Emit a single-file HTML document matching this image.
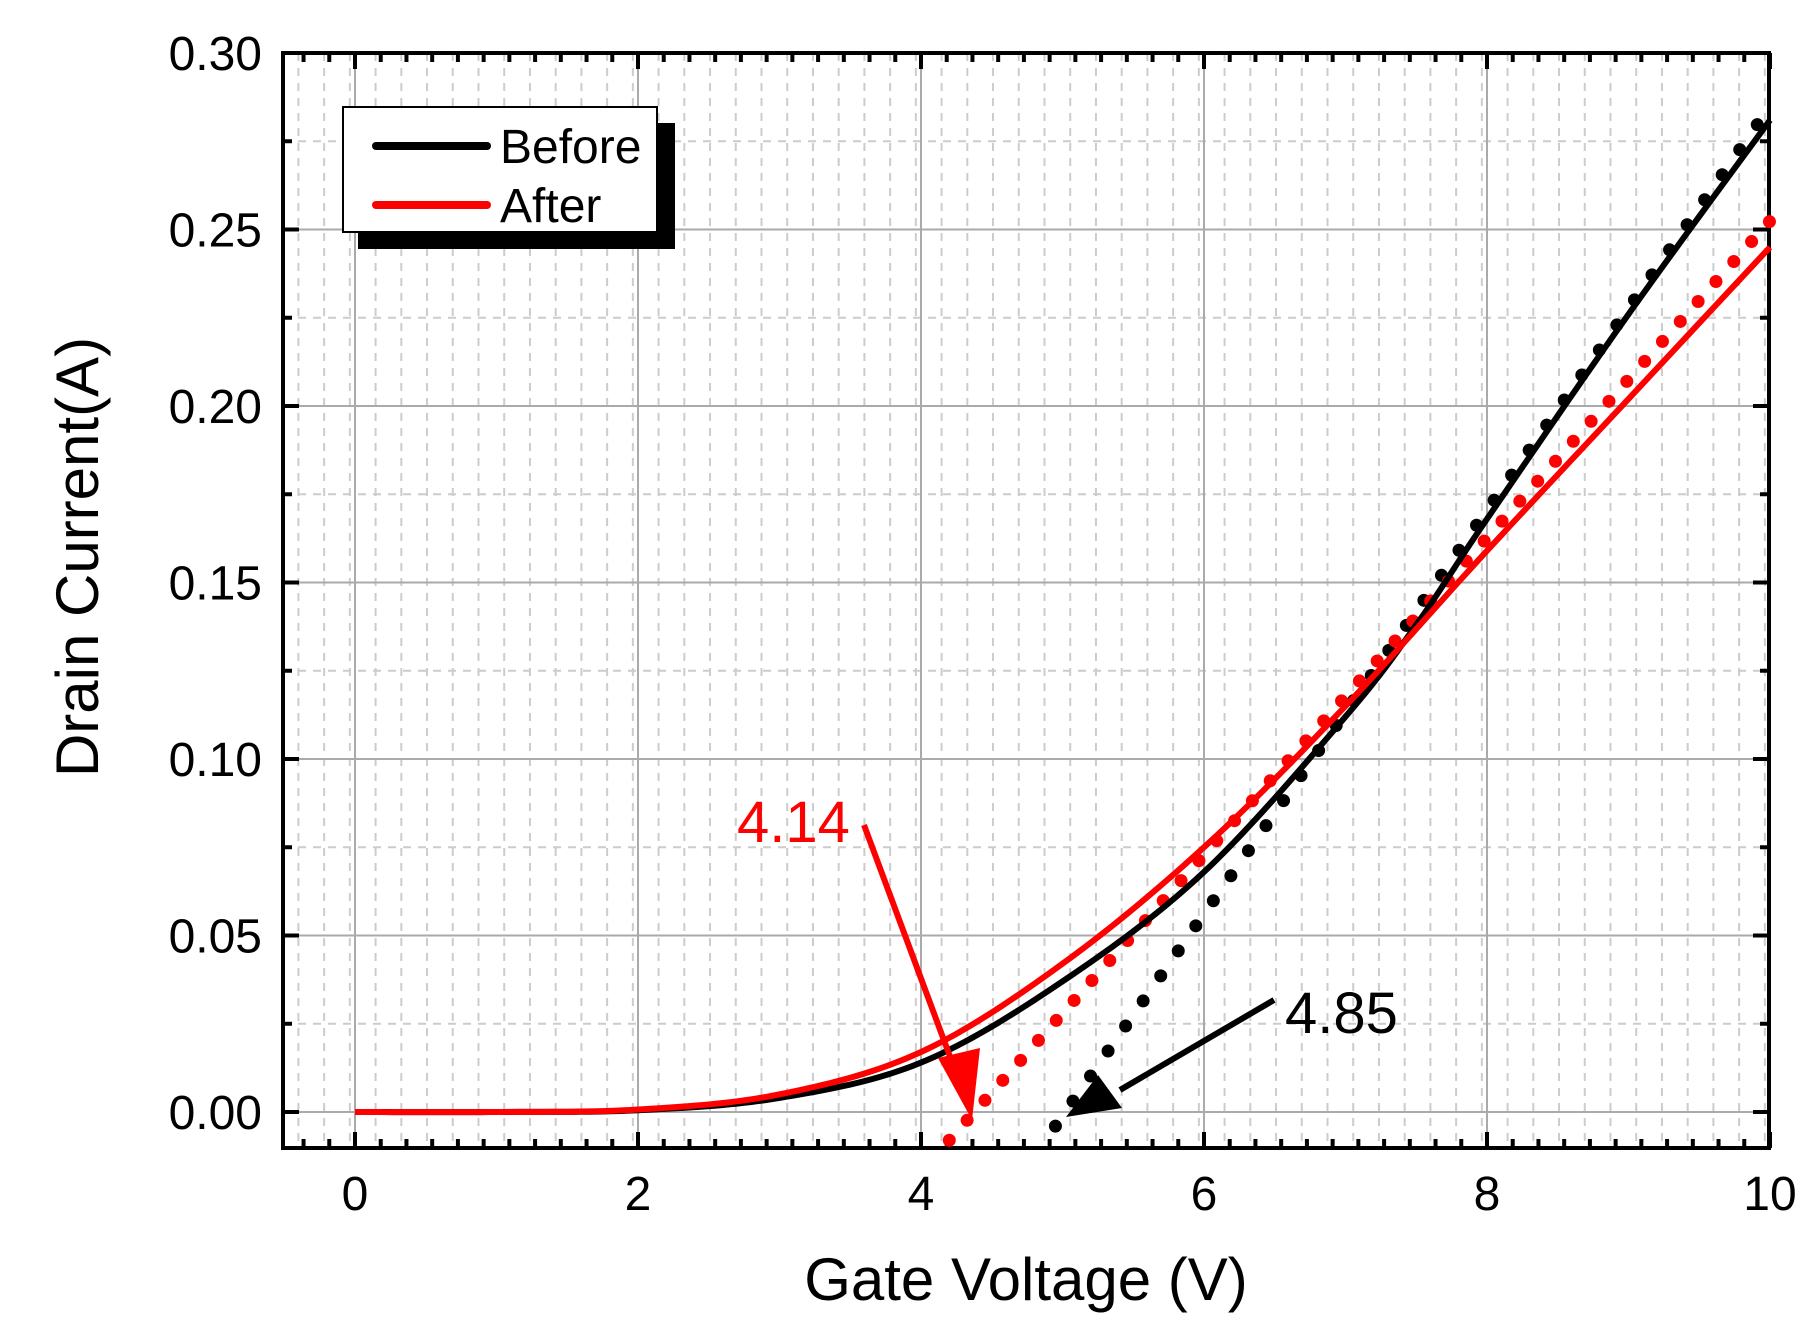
<!DOCTYPE html><html><head><style>body{margin:0;background:#fff}svg{display:block}</style></head><body>
<svg id="s" width="1819" height="1340" viewBox="0 0 1819 1340" font-family="Liberation Sans, Arial, sans-serif"></svg>
<script>
const s=document.getElementById('s');
const L=283,R=1769,T=53,B=1148,X0=355,XU=141.5,Y0=1112,YU=3530;
const X=v=>X0+v*XU, Y=v=>Y0-v*YU;
let h='';
for(let i=-0.4;i<=10.01;i+=2/11){const x=X(i);if(x>L+2&&x<R-2)h+=`<line x1="${x}" y1="${T}" x2="${x}" y2="${B}" stroke="#ccc" stroke-width="2" stroke-dasharray="8,7"/>`;}
for(let v=0.025;v<=0.3;v+=0.05){h+=`<line x1="${L}" y1="${Y(v)}" x2="${R}" y2="${Y(v)}" stroke="#ccc" stroke-width="2" stroke-dasharray="8,7"/>`;}
for(let i=0;i<=10;i+=2){h+=`<line x1="${X(i)}" y1="${T}" x2="${X(i)}" y2="${B}" stroke="#aaa" stroke-width="2"/>`;}
for(let k=0;k<=6;k++){const v=k*0.05;h+=`<line x1="${L}" y1="${Y(v)}" x2="${R}" y2="${Y(v)}" stroke="#aaa" stroke-width="2"/>`;}
for(let i=-4/11;i<=10.01;i+=2/11){const x=X(i);if(x<L+2)continue;const maj=Math.abs(i/2-Math.round(i/2))<0.01;const l=maj?16:9;
h+=`<line x1="${x}" y1="${B}" x2="${x}" y2="${B-l}" stroke="#000" stroke-width="4"/><line x1="${x}" y1="${T}" x2="${x}" y2="${T+l}" stroke="#000" stroke-width="4"/>`;}
for(let k=-1;k<=12;k++){const v=k*0.025;const y=Y(v);if(y>B-2||y<T+2)continue;const l=k%2==0?16:9;
h+=`<line x1="${L}" y1="${y}" x2="${L+l}" y2="${y}" stroke="#000" stroke-width="4"/><line x1="${R}" y1="${y}" x2="${R-l}" y2="${y}" stroke="#000" stroke-width="4"/>`;}
h+=`<rect x="${L}" y="${T}" width="${R-L}" height="${B-T}" fill="none" stroke="#000" stroke-width="4"/>`;
for(let i=0;i<=10;i+=2)h+=`<text x="${X(i)}" y="1210" font-size="48" text-anchor="middle">${i}</text>`;
for(let k=0;k<=6;k++)h+=`<text x="262" y="${Y(k*0.05)+17}" font-size="48" text-anchor="end">${(k*0.05).toFixed(2)}</text>`;
h+=`<text x="1026" y="1300" font-size="60" text-anchor="middle">Gate Voltage (V)</text>`;
h+=`<text transform="translate(98,557) rotate(-90)" font-size="60" text-anchor="middle">Drain Current(A)</text>`;
function dots(x1,y1,x2,c,slope,st){let o='';for(let x=x1;x<=x2+0.001;x+=st){const y=y1+(x-x1)*slope;o+=`<circle cx="${X(x)}" cy="${Y(y)}" r="6.5" fill="${c}"/>`;}return o;}
h+=dots(4.95,-0.004,10,'#000',0.0572,0.124);
h+=dots(4.2,-0.008,10,'#f00',0.0449,0.126);
function curve(p,c){let pts=[];for(let i=0;i<p.length-1;i++){const p0=p[Math.max(0,i-1)],p1=p[i],p2=p[i+1],p3=p[Math.min(p.length-1,i+2)];
for(let t=0;t<1;t+=0.05){const t2=t*t,t3=t2*t;const f=(a,b,c2,d)=>0.5*((2*b)+(-a+c2)*t+(2*a-5*b+4*c2-d)*t2+(-a+3*b-3*c2+d)*t3);pts.push([X(f(p0[0],p1[0],p2[0],p3[0])),Y(f(p0[1],p1[1],p2[1],p3[1]))]);}}
pts.push([X(p[p.length-1][0]),Y(p[p.length-1][1])]);
return `<polyline points="${pts.map(q=>q.join(',')).join(' ')}" fill="none" stroke="${c}" stroke-width="6"/>`;}
h+=curve([[0,0],[1,0],[2,0.0005],[3,0.004],[4,0.014],[5,0.037],[6,0.068],[7,0.112],[7.5,0.138],[8,0.168],[9,0.226],[10,0.281]],'#000');
h+=curve([[0,0],[1,0],[2,0.0007],[3,0.005],[4,0.017],[5,0.042],[6,0.075],[7,0.115],[8,0.159],[9,0.202],[10,0.245]],'#f00');
h+=`<line x1="864" y1="825" x2="955" y2="1070" stroke="#f00" stroke-width="6"/><polygon points="972,1120 938,1058 980,1048" fill="#f00"/>`;
h+=`<text x="737" y="842" font-size="58" fill="#f00">4.14</text>`;
h+=`<line x1="1274" y1="1000" x2="1120" y2="1090" stroke="#000" stroke-width="6"/><polygon points="1066,1117 1098,1075 1122,1108" fill="#000"/>`;
h+=`<text x="1285" y="1033" font-size="58">4.85</text>`;
h+=`<rect x="358" y="123" width="317" height="126" fill="#000"/><rect x="343" y="107" width="314" height="125" fill="#fff" stroke="#000" stroke-width="2"/>`;
h+=`<line x1="376" y1="146" x2="487" y2="146" stroke="#000" stroke-width="8" stroke-linecap="round"/><line x1="376" y1="205" x2="487" y2="205" stroke="#f00" stroke-width="8" stroke-linecap="round"/>`;
h+=`<text x="500" y="163" font-size="48">Before</text><text x="500" y="222" font-size="48">After</text>`;
s.innerHTML=h;
</script></body></html>
